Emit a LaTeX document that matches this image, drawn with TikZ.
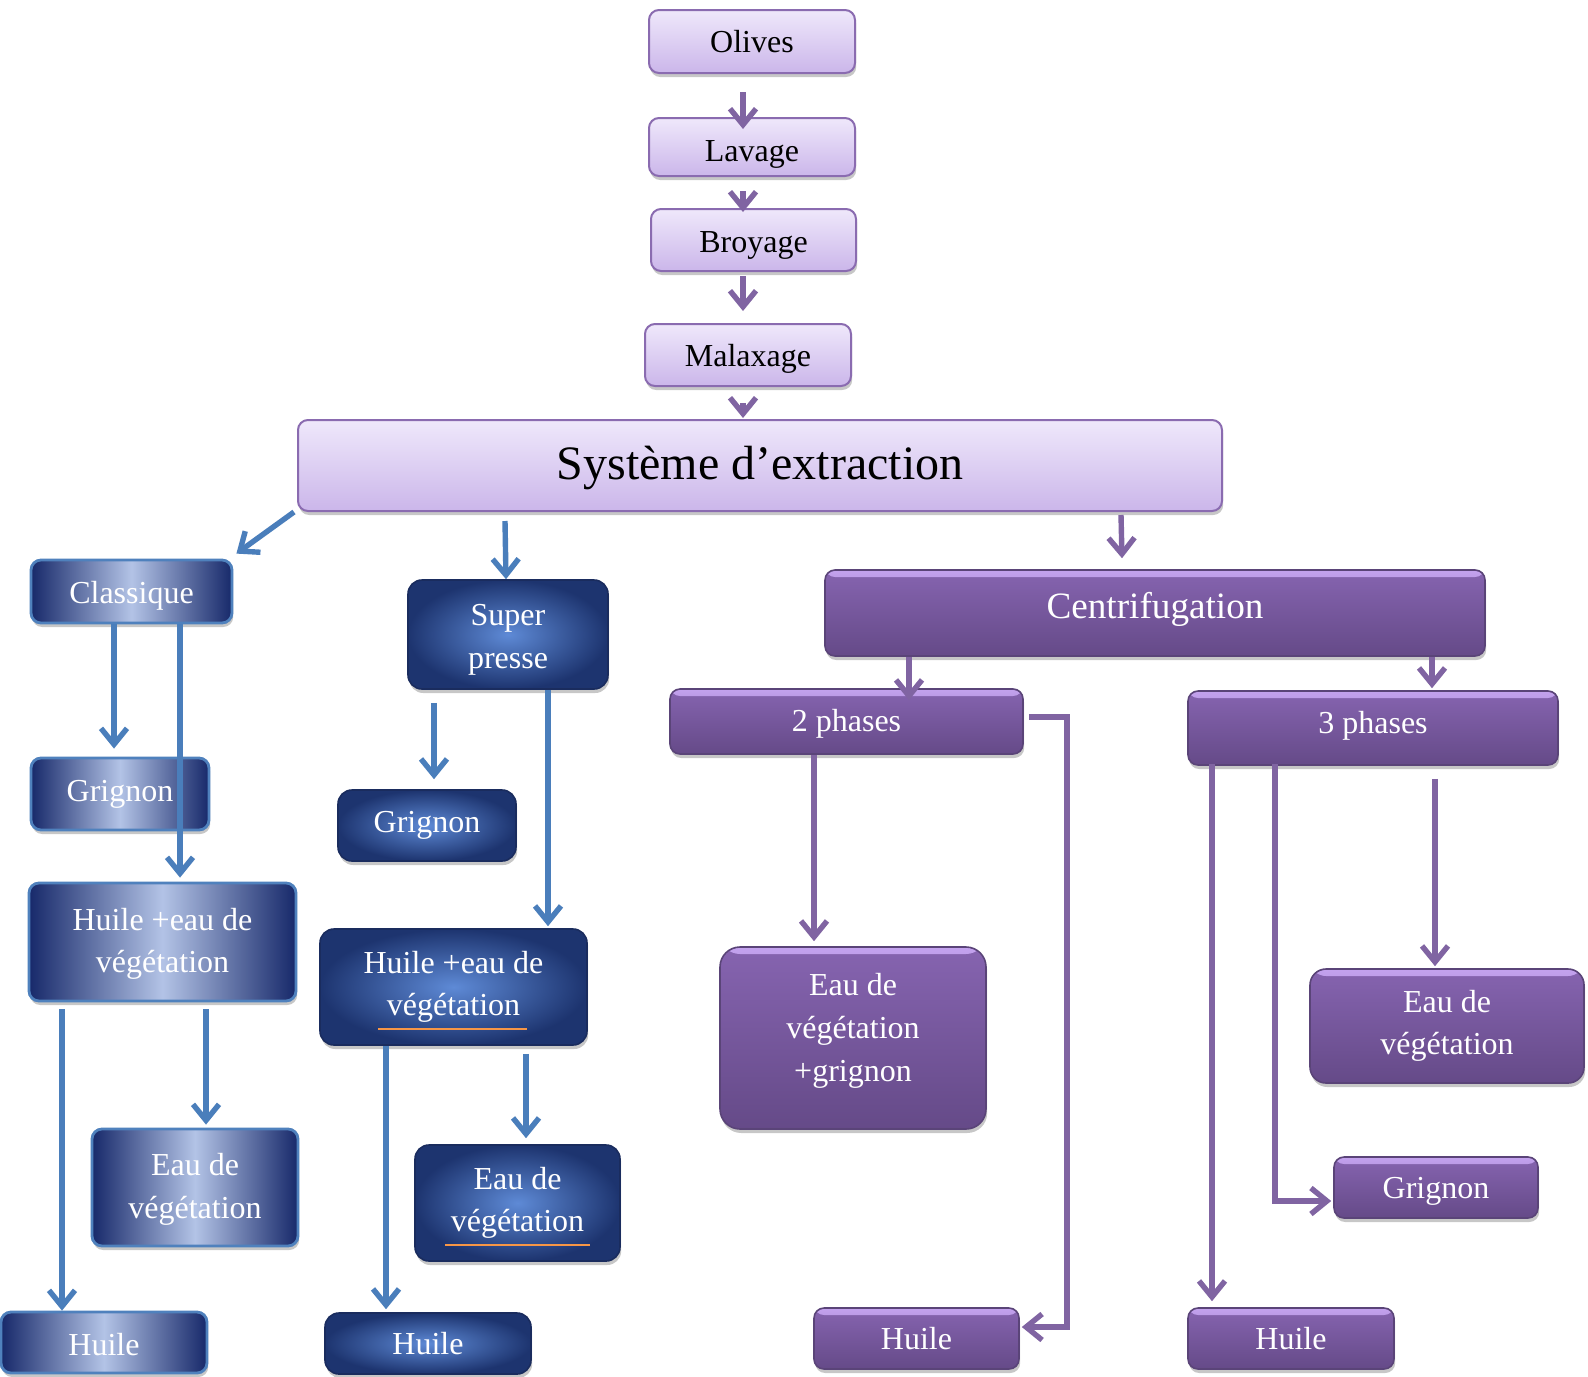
\documentclass[tikz,border=0pt]{standalone}
\usepackage{fontspec}
\setmainfont{Liberation Serif}
\usetikzlibrary{arrows.meta,calc,shadows}
\definecolor{lptop}{HTML}{EFE8FB}
\definecolor{lpbot}{HTML}{CBB6EA}
\definecolor{lpborder}{HTML}{8A6BB0}
\definecolor{bldark}{HTML}{17296A}
\definecolor{bllight}{HTML}{B3C3E6}
\definecolor{blborder}{HTML}{4F81BD}
\definecolor{bminner}{HTML}{5E8AD6}
\definecolor{bmouter}{HTML}{1D346F}
\definecolor{bmborder}{HTML}{1A2C5E}
\definecolor{putop}{HTML}{8664B0}
\definecolor{pubot}{HTML}{654A88}
\definecolor{puborder}{HTML}{5A4478}
\definecolor{pulight}{HTML}{C3A2EE}
\definecolor{barrow}{HTML}{4A7EBB}
\definecolor{parrow}{HTML}{8064A2}
\definecolor{ulorange}{HTML}{F79646}
% shift a text vertically inside its box without changing the box size
\newcommand\vshift[2]{\raisebox{#1}[\height][\depth]{#2}}
\newcommand\vshiftml[2]{\raisebox{#1}[\height][\depth]{\begin{tabular}{@{}c@{}}#2\end{tabular}}}
\begin{document}
\begin{tikzpicture}[x=0.5pt,y=-0.5pt,
  base/.style={rounded corners=5pt, inner sep=0pt, align=center,
    font=\fontsize{16}{21.3}\selectfont,
    drop shadow={shadow xshift=0.6pt, shadow yshift=-2pt, opacity=0.22, fill=black}},
  lp/.style={base, draw=lpborder, line width=1pt, top color=lptop, bottom color=lpbot, text=black},
  bl/.style={base, draw=blborder, line width=1.4pt, left color=bldark, right color=bldark, middle color=bllight, text=white},
  bm/.style={base, rounded corners=7pt, draw=bmborder, line width=0.8pt, inner color=bminner, outer color=bmouter, text=white},
  pu/.style={base, draw=puborder, line width=0.8pt, top color=putop, bottom color=pubot, text=white,
    path picture={\shade[top color=pulight, bottom color=putop] ([yshift=-0.4pt]path picture bounding box.north west) rectangle ([yshift=-3.5pt]path picture bounding box.north east);}},
  ba/.style={draw=barrow, line width=2.7pt, -{Straight Barb[length=8pt,width=13pt]}},
  pa/.style={draw=parrow, line width=2.7pt, -{Straight Barb[length=8pt,width=13pt]}},
  ul/.style={draw=ulorange, line width=0.7pt}
]
\useasboundingbox[fill=white] (0,0) rectangle (1588,1376);

% top chain
\node[lp, minimum width=103pt, minimum height=31.5pt] (olives) at (752,41.5) {Olives};
\node[lp, minimum width=103pt, minimum height=29pt] (lavage) at (752,147) {\vshift{-3.5pt}{Lavage}};
\node[lp, minimum width=102.5pt, minimum height=31pt] (broyage) at (753.5,240) {\vshift{-2.5pt}{Broyage}};
\node[lp, minimum width=103pt, minimum height=31pt] (malaxage) at (748,355) {\vshift{-2pt}{Malaxage}};
\node[lp, minimum width=462pt, minimum height=45.5pt, font=\fontsize{24}{29}\selectfont] (systeme) at (760,465.5) {\vshift{-1pt}{Système d’extraction}};

% classique column
\node[bl, minimum width=100.5pt, minimum height=31.5pt] (classique) at (131.5,591.5) {\vshift{-2pt}{Classique}};
\node[bl, minimum width=89pt, minimum height=36pt] (grignonL) at (120,794) {Grignon};
\node[bl, minimum width=133.5pt, minimum height=59pt] (huileeauL) at (162.5,942) {\vshiftml{-0.5pt}{Huile +eau de\\végétation}};
\node[bl, minimum width=103pt, minimum height=58.5pt] (eauL) at (195,1187.5) {\vshiftml{-0.5pt}{Eau de\\végétation}};
\node[bl, minimum width=103pt, minimum height=30.5pt] (huileL) at (104,1342.5) {\vshift{-1pt}{Huile}};

% super presse column
\node[bm, minimum width=100pt, minimum height=54.5pt] (superpresse) at (508,634.5) {\vshiftml{-2pt}{Super\\presse}};
\node[bm, minimum width=89pt, minimum height=35.5pt] (grignonM) at (427,825.5) {Grignon};
\node[bm, minimum width=133.5pt, minimum height=58pt] (huileeauM) at (453.5,987) {Huile +eau de\\végétation};
\node[bm, minimum width=102.5pt, minimum height=58pt] (eauM) at (517.5,1203) {Eau de\\végétation};
\node[bm, minimum width=103pt, minimum height=30.5pt] (huileM) at (428,1343.5) {Huile};
\draw[ul] ($(huileeauM.center)+(-75.5,42)$) -- ($(huileeauM.center)+(73.5,42)$);
\draw[ul] ($(eauM.center)+(-72.5,42)$) -- ($(eauM.center)+(72.5,42)$);

% centrifugation
\node[pu, minimum width=330pt, minimum height=43pt, font=\fontsize{18.6}{22}\selectfont] (centri) at (1155,613) {\vshift{2pt}{Centrifugation}};
\node[pu, minimum width=176.5pt, minimum height=32.5pt] (deux) at (846.5,721.5) {\vshift{-1pt}{2 phases}};
\node[pu, minimum width=185pt, minimum height=37pt] (trois) at (1373,728) {\vshift{1pt}{3 phases}};
\node[pu, rounded corners=10pt, minimum width=133pt, minimum height=91pt] (eaugr) at (853,1038) {\vshiftml{4pt}{Eau de\\végétation\\+grignon}};
\node[pu, minimum width=102.5pt, minimum height=30.5pt] (huile2) at (916.5,1338.5) {Huile};
\node[pu, rounded corners=8pt, minimum width=137pt, minimum height=57pt] (eau3) at (1447,1026) {Eau de\\végétation};
\node[pu, minimum width=102pt, minimum height=30.5pt] (grignon3) at (1436,1187.5) {\vshift{-2pt}{Grignon}};
\node[pu, minimum width=103pt, minimum height=30.5pt] (huile3) at (1291,1338.5) {Huile};

% connectors: top chain
\draw[pa] ($(olives.south)+(-9,18)$) -- ($(lavage.north)+(-9,12)$);
\draw[pa] ($(lavage.south)+(-9,14)$) -- ($(broyage.north)+(-10.5,4)$);
\draw[pa] ($(broyage.south)+(-10.5,4)$) -- ($(malaxage.north)+(-5,-12)$);
\draw[pa] ($(malaxage.south)+(-5,16)$) -- ($(systeme.north)+(-17,-1)$);

% from systeme
\draw[ba] ($(systeme.south west)+(-3,0)$) -- ($(classique.north east)+(3,-5)$);
\draw[ba] ($(systeme.south west)+(208,9)$) -- ($(superpresse.north)+(-2,0)$);
\draw[pa] ($(systeme.south west)+(824,3)$) -- ($(centri.north)+(-33,-11)$);

% classique
\draw[ba] ($(classique.south)+(-17.5,0)$) -- ($(grignonL.north)+(-6,-8)$);
\draw[ba] ($(classique.south)+(48.5,0)$) -- ($(huileeauL.north)+(17.5,-4)$);
\draw[ba] ($(huileeauL.south)+(-100.5,7)$) -- ($(huileL.north)+(-42,0)$);
\draw[ba] ($(huileeauL.south)+(43.5,7)$) -- ($(eauL.north)+(11,-3)$);

% super presse
\draw[ba] ($(superpresse.south)+(-74,13)$) -- ($(grignonM.north)+(7,-10)$);
\draw[ba] ($(superpresse.south)+(40,0)$) -- ($(huileeauM.north)+(94.5,-2)$);
\draw[ba] ($(huileeauM.south)+(-67.5,0)$) -- ($(huileM.north)+(-42,-3)$);
\draw[ba] ($(huileeauM.south)+(72.5,8)$) -- ($(eauM.north)+(8.5,-6)$);

% centrifugation
\draw[pa] ($(centri.south)+(-246,0)$) -- ($(deux.north)+(62.5,12)$);
\draw[pa] ($(centri.south)+(277,0)$) -- ($(trois.north)+(59,-2)$);
\draw[pa] ($(deux.south)+(-32.5,0)$) -- ($(eaugr.north)+(-39,-5)$);
\draw[pa] ($(deux.east)+(5,-4.5)$) -- ++(38,0) |- ($(huile2.east)+(2,-11.5)$);
\draw[pa] ($(trois.south)+(62,13)$) -- ($(eau3.north)+(-12,-2)$);
\draw[pa] ($(trois.south)+(-98,-2)$) |- ($(grignon3.west)+(-2,13.5)$);
\draw[pa] ($(trois.south)+(-161,-2)$) -- ($(huile3.north)+(-79,-6)$);
\end{tikzpicture}
\end{document}
